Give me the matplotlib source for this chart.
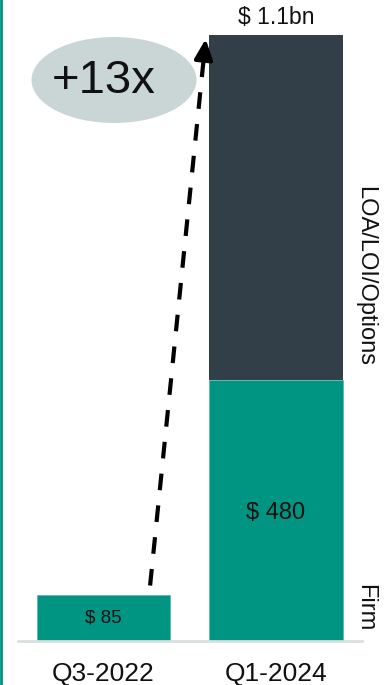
import matplotlib
matplotlib.use("Agg")
import matplotlib.pyplot as plt
from matplotlib.patches import Ellipse
from matplotlib.lines import Line2D

plt.rcParams['font.family'] = ['Liberation Sans', 'DejaVu Sans']
plt.rcParams['lines.scale_dashes'] = False

# data
periods = ["Q3-2022", "Q1-2024"]
firm = [85, 480]
loa = [0, 635]
firm_labels = ["$ 85", "$ 480"]
total_label = "$ 1.1bn"
growth_label = "+13x"

teal = "#009482"
dark = "#333F48"

fig = plt.figure(figsize=(3.86, 6.85), dpi=100)
W, H = 386, 685
ax = fig.add_axes([18 / W, 44 / H, 344 / W, 641 / H])

x = [0, 1]
bw = 0.775
ax.bar(x, firm, width=bw, color=teal, edgecolor="#5fb8ad", linewidth=0.6, zorder=2)
ax.bar(x, loa, bottom=firm, width=bw, color=dark, linewidth=0, zorder=2)

ax.set_xlim(-0.496, 1.499)
ax.set_ylim(0, 641 * 480 / 261)

for s in ["top", "right", "left"]:
    ax.spines[s].set_visible(False)
ax.spines["bottom"].set_color("#d9dfdf")
ax.spines["bottom"].set_linewidth(2)
ax.set_yticks([])
ax.set_xticks(x)
ax.set_xticklabels(periods, fontsize=19, color="#111111")
ax.tick_params(axis="x", length=0, pad=15)

# value labels
ax.text(x[0], firm[0] / 2, firm_labels[0], ha="center", va="center", fontsize=13.5, color="#111111")
ax.text(x[1], firm[1] * 0.49, firm_labels[1], ha="center", va="center", fontsize=17, color="#111111")
total = firm[1] + loa[1]
ax.text(x[1], total + 10, total_label, ha="center", va="bottom", fontsize=16.5, color="#111111")

# right side labels
ax.text(1.515, firm[1] + loa[1] * 0.30, "LOA/LOI/Options", rotation=-90, ha="center", va="center",
        fontsize=17, color="#111111")
ax.text(1.515, firm[1] * 0.127, "Firm", rotation=-90, ha="center", va="center",
        fontsize=17, color="#111111")

# dashed growth arrow
x0, y0 = x[0] + 0.27, firm[0] + 17
x1, y1 = x[1] - bw / 2 - 0.02, total - 8
frac = 0.955
xm, ym = x0 + (x1 - x0) * frac, y0 + (y1 - y0) * frac
ax.plot([x0, xm], [y0, ym], color="black", lw=3, dashes=(12, 11), solid_capstyle="butt", zorder=3)
ax.annotate("", xy=(x1, y1), xytext=(xm, ym),
            arrowprops=dict(arrowstyle="-|>,head_length=1.2,head_width=0.55", color="black", lw=3,
                            shrinkA=0, shrinkB=0), zorder=3)

# growth bubble
fig.patches.append(Ellipse((114 / W, 1 - 80 / H), 165 / W, 86 / H, transform=fig.transFigure,
                           facecolor="#c9d6d5", edgecolor="none", zorder=0))
fig.text(104 / W, 1 - 93 / H, growth_label, ha="center", va="baseline", fontsize=34, color="#111111")

# left accent line
fig.add_artist(Line2D([1 / W, 1 / W], [0, 1], transform=fig.transFigure, color=teal, lw=2))

fig.savefig("out.png", dpi=100)
